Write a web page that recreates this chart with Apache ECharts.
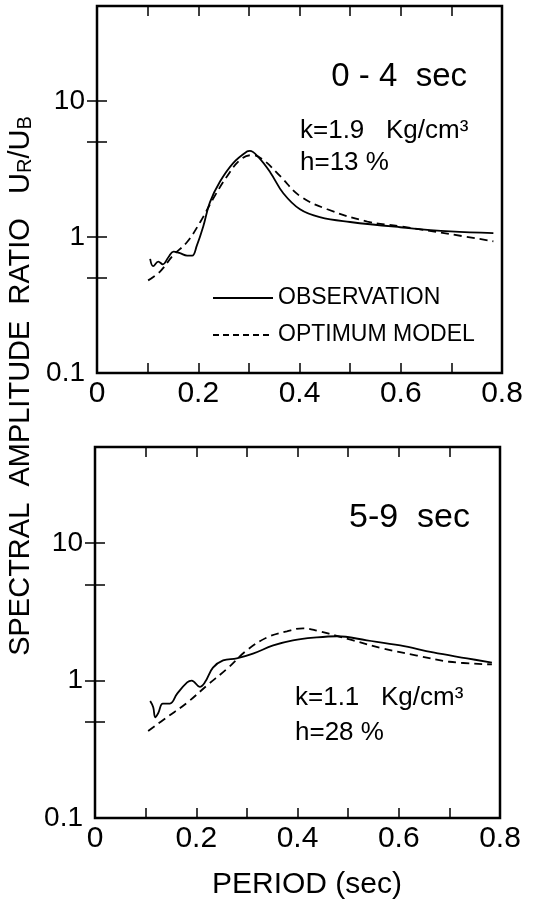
<!DOCTYPE html>
<html>
<head>
<meta charset="utf-8">
<script src="https://cdn.jsdelivr.net/npm/echarts@6/dist/echarts.min.js"></script>
<style>
  html, body { margin: 0; background: #fff; }
  #chart { width: 535px; height: 900px; }
</style>
</head>
<body>
<div id="chart"></div>
<script>
// 上段 0-4 sec: 观测值
const topObsPeriod = [0.105, 0.111, 0.121, 0.130, 0.141, 0.151, 0.164, 0.178, 0.188, 0.197, 0.210, 0.223, 0.243, 0.269, 0.296, 0.302, 0.318, 0.342, 0.368, 0.401, 0.440, 0.500, 0.599, 0.698, 0.783]
const topObsRatio  = [0.69, 0.61, 0.66, 0.63, 0.71, 0.78, 0.76, 0.73, 0.73, 0.86, 1.2, 1.8, 2.56, 3.5, 4.25, 4.3, 3.9, 3.0, 2.1, 1.6, 1.4, 1.29, 1.18, 1.1, 1.07]
// 上段 0-4 sec: 最优模型
const topModelPeriod = [0.101, 0.125, 0.150, 0.178, 0.204, 0.229, 0.257, 0.283, 0.306, 0.328, 0.362, 0.401, 0.455, 0.534, 0.599, 0.698, 0.783]
const topModelRatio  = [0.48, 0.56, 0.73, 0.92, 1.29, 1.9, 2.8, 3.7, 4.0, 3.7, 2.8, 2.0, 1.6, 1.3, 1.2, 1.05, 0.93]

// 下段 5-9 sec: 观测值
const botObsPeriod = [0.109, 0.115, 0.119, 0.125, 0.134, 0.148, 0.162, 0.182, 0.191, 0.207, 0.217, 0.233, 0.253, 0.280, 0.312, 0.352, 0.391, 0.438, 0.478, 0.537, 0.603, 0.668, 0.735, 0.784]
const botObsRatio  = [0.71, 0.64, 0.54, 0.58, 0.68, 0.68, 0.80, 0.97, 1.0, 0.90, 0.97, 1.24, 1.4, 1.45, 1.57, 1.8, 1.96, 2.06, 2.1, 1.96, 1.8, 1.6, 1.45, 1.35]
// 下段 5-9 sec: 最优模型
const botModelPeriod = [0.105, 0.142, 0.182, 0.221, 0.261, 0.300, 0.340, 0.379, 0.411, 0.440, 0.474, 0.510, 0.569, 0.636, 0.700, 0.784]
const botModelRatio  = [0.43, 0.54, 0.69, 0.92, 1.22, 1.66, 2.06, 2.28, 2.4, 2.3, 2.13, 1.96, 1.71, 1.52, 1.37, 1.31]

// 刻度
const xTickStep = 0.1
const yLabelValues = [0.1, 1, 10]
const yTickValues = [0.5, 1, 5, 10]

const FONT = 'Liberation Sans'
const chart = echarts.init(document.getElementById('chart'))

const pairs = (xs, ys) => xs.map((x, i) => [x, ys[i]])

const xAxisBase = (gridIndex, position, withLabels) => ({
  type: 'value',
  gridIndex,
  position,
  min: 0,
  max: 0.8,
  interval: xTickStep,
  axisLine: { show: false },
  splitLine: { show: false },
  axisTick: { show: true, inside: true, length: 10, lineStyle: { color: '#000', width: 1.5 } },
  axisLabel: {
    show: withLabels,
    color: '#000',
    fontFamily: FONT,
    fontSize: 30,
    margin: 6,
    formatter: v => {
      const n = Math.round(v * 10)
      if (n % 2 !== 0) return ''
      return n === 0 ? '0' : (n / 10).toFixed(1)
    }
  }
})

const yAxisBase = (gridIndex, position, withLabels) => ({
  type: 'log',
  logBase: 10,
  gridIndex,
  position,
  min: 0.1,
  max: 50,
  axisLine: { show: false },
  splitLine: { show: false },
  axisTick: { show: true, inside: true, length: 10, customValues: yTickValues, lineStyle: { color: '#000', width: 1.5 } },
  axisLabel: {
    show: withLabels,
    customValues: yLabelValues,
    color: '#000',
    fontFamily: FONT,
    fontSize: 28,
    margin: 12,
    formatter: v => (v < 1 ? '0.1' : String(Math.round(v)))
  }
})

const lineSeries = (xIdx, yIdx, data, dashed) => ({
  type: 'line',
  xAxisIndex: xIdx,
  yAxisIndex: yIdx,
  data,
  smooth: 0.4,
  symbol: 'none',
  silent: true,
  lineStyle: { color: '#000', width: 1.8, type: dashed ? [8, 5] : 'solid' }
})

const txt = (x, y, text, size, align) => ({
  type: 'text',
  x, y,
  style: {
    text,
    fill: '#000',
    font: `${size}px "${FONT}"`,
    textAlign: align || 'left',
    textVerticalAlign: 'middle'
  }
})

const legendLine = (y, dashed) => ({
  type: 'line',
  shape: { x1: 213, y1: y, x2: 273, y2: y },
  style: { stroke: '#000', lineWidth: 1.8, lineDash: dashed ? [6, 4] : null }
})

chart.setOption({
  animation: false,
  backgroundColor: '#fff',
  grid: [
    { left: 97, top: 6, width: 405, height: 367, show: true, borderColor: '#000', borderWidth: 2.5, backgroundColor: 'transparent' },
    { left: 95, top: 447, width: 405, height: 371, show: true, borderColor: '#000', borderWidth: 2.5, backgroundColor: 'transparent' }
  ],
  xAxis: [
    xAxisBase(0, 'bottom', true),
    xAxisBase(0, 'top', false),
    xAxisBase(1, 'bottom', true),
    xAxisBase(1, 'top', false)
  ],
  yAxis: [
    yAxisBase(0, 'left', true),
    yAxisBase(0, 'right', false),
    yAxisBase(1, 'left', true),
    yAxisBase(1, 'right', false)
  ],
  series: [
    lineSeries(0, 0, pairs(topObsPeriod, topObsRatio), false),
    lineSeries(0, 0, pairs(topModelPeriod, topModelRatio), true),
    lineSeries(2, 2, pairs(botObsPeriod, botObsRatio), false),
    lineSeries(2, 2, pairs(botModelPeriod, botModelRatio), true)
  ],
  graphic: [
    // 上段注释
    txt(467, 77, '0 - 4  sec', 33, 'right'),
    txt(300, 131, 'k=1.9   Kg/cm³', 26),
    txt(300, 163, 'h=13 %', 26),
    legendLine(298, false),
    txt(278, 298, 'OBSERVATION', 23),
    legendLine(335, true),
    txt(278, 335, 'OPTIMUM MODEL', 23),
    // 下段注释
    txt(470, 518, '5-9  sec', 34, 'right'),
    txt(295, 698, 'k=1.1   Kg/cm³', 26),
    txt(295, 733, 'h=28 %', 26),
    // 轴标题
    txt(307, 885, 'PERIOD (sec)', 30, 'center'),
    {
      type: 'text',
      x: 21,
      y: 386,
      rotation: Math.PI / 2,
      style: {
        text: 'SPECTRAL  AMPLITUDE  RATIO   U{s|R}/U{s|B}',
        fill: '#000',
        font: `29px "${FONT}"`,
        textAlign: 'center',
        textVerticalAlign: 'middle',
        rich: { s: { fontSize: 20, fontFamily: FONT, fill: '#000', padding: [8, 0, 0, 0] } }
      }
    }
  ]
})
</script>
</body>
</html>
